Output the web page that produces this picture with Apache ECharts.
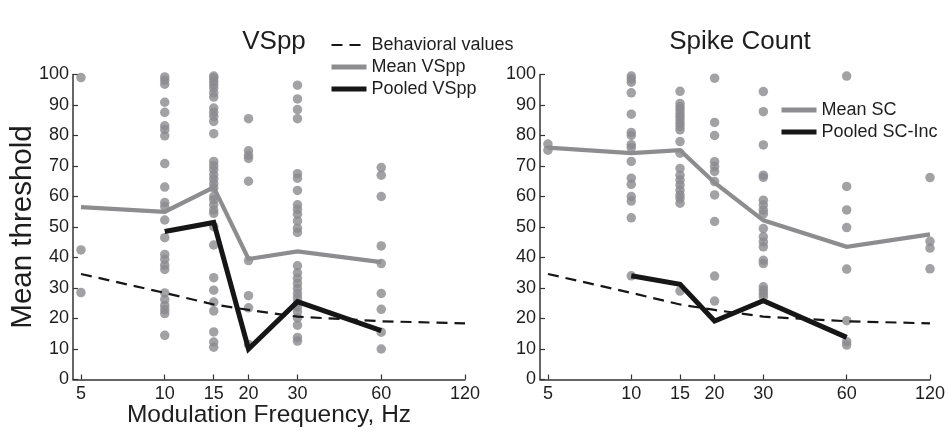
<!DOCTYPE html>
<html>
<head>
<meta charset="utf-8">
<script src="https://cdn.jsdelivr.net/npm/echarts@6/dist/echarts.min.js"></script>
<style>
  html, body { margin: 0; padding: 0; background: #fff; }
  #chart { width: 948px; height: 431px; }
</style>
</head>
<body>
<div id="chart"></div>
<script>
// Modulation frequencies (Hz) used as tick marks on both log axes
const freqTicks = [5, 10, 15, 20, 30, 60, 120];

// Behavioral thresholds, shared by both panels
const behavioralFreqs = [5, 10, 15, 20, 30, 60, 120];
const behavioralValues = [34.6, 28.4, 24.6, 22.8, 20.6, 19.1, 18.4];

// VSpp panel
const vsppFreqs = [5, 10, 15, 20, 30, 60];
const vsppMean = [56.5, 55, 63, 39.5, 42, 38.5];
const vsppPooledFreqs = [10, 15, 20, 30, 60];
const vsppPooled = [48.5, 51.5, 10, 25.5, 16];
const vsppUnits = [
  [99, 42.5, 28.5],
  [99.2, 98.1, 96.8, 90.9, 87.6, 83.2, 81.9, 79.9, 70.8, 63.1, 58, 56.7, 52.3, 46.5, 41, 39.4, 37.5, 36.1, 28.4, 26.2, 24.3, 22.9, 21.6, 14.5],
  [99.5, 98.9, 97.8, 96.7, 95.6, 94, 92.6, 89, 87.6, 86.3, 84.6, 80.6, 71.5, 70.1, 68.8, 67.1, 65.7, 64.2, 62.8, 60, 58.9, 57.3, 55.6, 54.5, 50.1, 44.1, 33.4, 29.3, 25.4, 22.5, 15.6, 12.3, 10.6],
  [85.5, 75, 73.5, 72.5, 65, 39, 27.5, 23.5, 11.5],
  [96.5, 92, 88.5, 85.5, 67.5, 66, 62, 57.3, 55.8, 54.2, 52, 49.6, 48.2, 37.3, 35, 33.2, 31.5, 29.8, 28.2, 26.8, 25.2, 23.8, 22.2, 20.2, 17.8, 13.8, 12.6],
  [69.5, 67, 60, 43.8, 38, 28.2, 23, 15.5, 10]
];

// Spike count panel
const scFreqs = [5, 10, 15, 20, 30, 60, 120];
const scMean = [76, 74.2, 75.2, 64.5, 52.2, 43.5, 47.6];
const scPooledFreqs = [10, 15, 20, 30, 60];
const scPooled = [34, 31.2, 19.2, 25.8, 13.8];
const scUnits = [
  [77.2, 75.2],
  [99.5, 98.5, 97.5, 94, 87, 81, 80, 77, 76, 71.5, 66, 64, 60, 58.5, 53, 34],
  [94.5, 90.5, 89.4, 88.4, 87.2, 86.2, 85.1, 84, 82.9, 81.8, 78, 74.2, 69.2, 67, 65.4, 63.8, 62.1, 60.5, 59.4, 57.8, 29],
  [98.8, 84.3, 80, 71.4, 69.8, 68.2, 64.9, 60.5, 51.8, 33.9, 25.7],
  [94.4, 87.8, 76.9, 67, 66.3, 58.8, 57.2, 55.5, 54.3, 49.5, 46.8, 45.1, 43.5, 39.1, 38, 30.4, 29.3, 28.2, 27.1],
  [99.5, 63.3, 55.6, 49.8, 36.2, 19.3, 12.4, 11.3],
  [66.2, 45.3, 43.1, 36.3]
];

const FONT = '"Liberation Sans", Arial, Helvetica, sans-serif';
const TEXT = '#1e1e1e';
const AXIS = '#333333';
const DOT = '#8b8b8e';
const GRAY_LINE = '#8d8d8f';
const BLACK_LINE = '#161616';
const DASH = [11, 7];

function pairs(xs, ys) {
  return xs.map((x, i) => [x, ys[i]]);
}
function unitPoints(freqs, units) {
  const out = [];
  freqs.forEach((f, i) => units[i].forEach(v => out.push([f, v])));
  return out;
}

function xAxisFor(gridIndex, withName) {
  return {
    type: 'log',
    logBase: 10,
    gridIndex: gridIndex,
    min: 4.68,
    max: 120,
    name: withName ? 'Modulation Frequency, Hz' : '',
    nameLocation: 'middle',
    nameGap: 23,
    nameMoveOverlap: false,
    nameTextStyle: { fontFamily: FONT, fontSize: 24.5, color: TEXT },
    axisLine: { show: true, lineStyle: { color: AXIS, width: 1.5 } },
    axisTick: { show: true, inside: true, length: 5, customValues: freqTicks, lineStyle: { color: AXIS, width: 1.2 } },
    axisLabel: {
      customValues: freqTicks,
      fontFamily: FONT, fontSize: 18, color: TEXT, margin: 6,
      formatter: v => String(Math.round(v))
    },
    minorTick: { show: false },
    splitLine: { show: false },
    minorSplitLine: { show: false }
  };
}

function yAxisFor(gridIndex, withName) {
  return {
    type: 'value',
    gridIndex: gridIndex,
    min: 0,
    max: 100,
    interval: 10,
    name: withName ? 'Mean threshold' : '',
    nameLocation: 'middle',
    nameGap: 35,
    nameMoveOverlap: false,
    nameTextStyle: { fontFamily: FONT, fontSize: 29.5, color: TEXT },
    axisLine: { show: true, lineStyle: { color: AXIS, width: 1.5 } },
    axisTick: { show: true, inside: true, length: 5, lineStyle: { color: AXIS, width: 1.2 } },
    axisLabel: { fontFamily: FONT, fontSize: 18, color: TEXT, margin: 4 },
    splitLine: { show: false }
  };
}

function dots(name, axisIndex, data) {
  return {
    name: name, type: 'scatter',
    xAxisIndex: axisIndex, yAxisIndex: axisIndex,
    data: data, symbol: 'circle', symbolSize: 9.5,
    itemStyle: { color: DOT },
    z: 1, silent: true
  };
}
function curve(name, axisIndex, data, color, width, type, z) {
  return {
    name: name, type: 'line',
    xAxisIndex: axisIndex, yAxisIndex: axisIndex,
    data: data, symbol: 'none',
    lineStyle: { color: color, width: width, type: type, cap: 'butt', join: 'miter' },
    itemStyle: { color: color },
    z: z, silent: true
  };
}

// Legend entries drawn as plain line samples
function legendEntry(name, color, width, type) {
  return { name: name, itemStyle: { opacity: 0 }, lineStyle: { color: color, width: width, type: type, cap: 'butt' } };
}

const legendCommon = {
  orient: 'vertical', padding: 0,
  itemWidth: 35, itemHeight: 14, itemGap: 4,
  itemStyle: { opacity: 0 },
  textStyle: { fontFamily: FONT, fontSize: 18, color: TEXT, lineHeight: 18 },
  selectedMode: false
};

const chart = echarts.init(document.getElementById('chart'), null, { renderer: 'canvas' });
chart.setOption({
  animation: false,
  backgroundColor: '#ffffff',
  textStyle: { fontFamily: FONT },
  title: [
    { text: 'VSpp', left: 269, top: 24, textAlign: 'center',
      textStyle: { fontFamily: FONT, fontSize: 26, fontWeight: 'normal', color: TEXT } },
    { text: 'Spike Count', left: 735, top: 24, textAlign: 'center',
      textStyle: { fontFamily: FONT, fontSize: 26, fontWeight: 'normal', color: TEXT } }
  ],
  legend: [
    Object.assign({}, legendCommon, {
      data: [
        legendEntry('Behavioral values', BLACK_LINE, 2.2, DASH),
        legendEntry('Mean VSpp', GRAY_LINE, 5, 'solid'),
        legendEntry('Pooled VSpp', BLACK_LINE, 5, 'solid')
      ],
      left: 329, top: 36 }),
    Object.assign({}, legendCommon, {
      data: [
        legendEntry('Mean SC', GRAY_LINE, 5, 'solid'),
        legendEntry('Pooled SC-Inc', BLACK_LINE, 5, 'solid')
      ],
      left: 779, top: 101 })
  ],
  grid: [
    { left: 73, right: 483, top: 74.5, bottom: 51.5, outerBoundsMode: 'none', containLabel: false },
    { left: 540, right: 18, top: 74.5, bottom: 51.5, outerBoundsMode: 'none', containLabel: false }
  ],
  xAxis: [xAxisFor(0, true), xAxisFor(1, false)],
  yAxis: [yAxisFor(0, true), yAxisFor(1, false)],
  series: [
    dots('VSpp units', 0, unitPoints(vsppFreqs, vsppUnits)),
    curve('Mean VSpp', 0, pairs(vsppFreqs, vsppMean), GRAY_LINE, 4.2, 'solid', 2),
    curve('Pooled VSpp', 0, pairs(vsppPooledFreqs, vsppPooled), BLACK_LINE, 5, 'solid', 3),
    curve('Behavioral values', 0, pairs(behavioralFreqs, behavioralValues), BLACK_LINE, 2.2, DASH, 4),

    dots('SC units', 1, unitPoints(scFreqs, scUnits)),
    curve('Mean SC', 1, pairs(scFreqs, scMean), GRAY_LINE, 4.2, 'solid', 2),
    curve('Pooled SC-Inc', 1, pairs(scPooledFreqs, scPooled), BLACK_LINE, 5, 'solid', 3),
    curve('Behavioral values', 1, pairs(behavioralFreqs, behavioralValues), BLACK_LINE, 2.2, DASH, 4)
  ]
});
</script>
</body>
</html>
